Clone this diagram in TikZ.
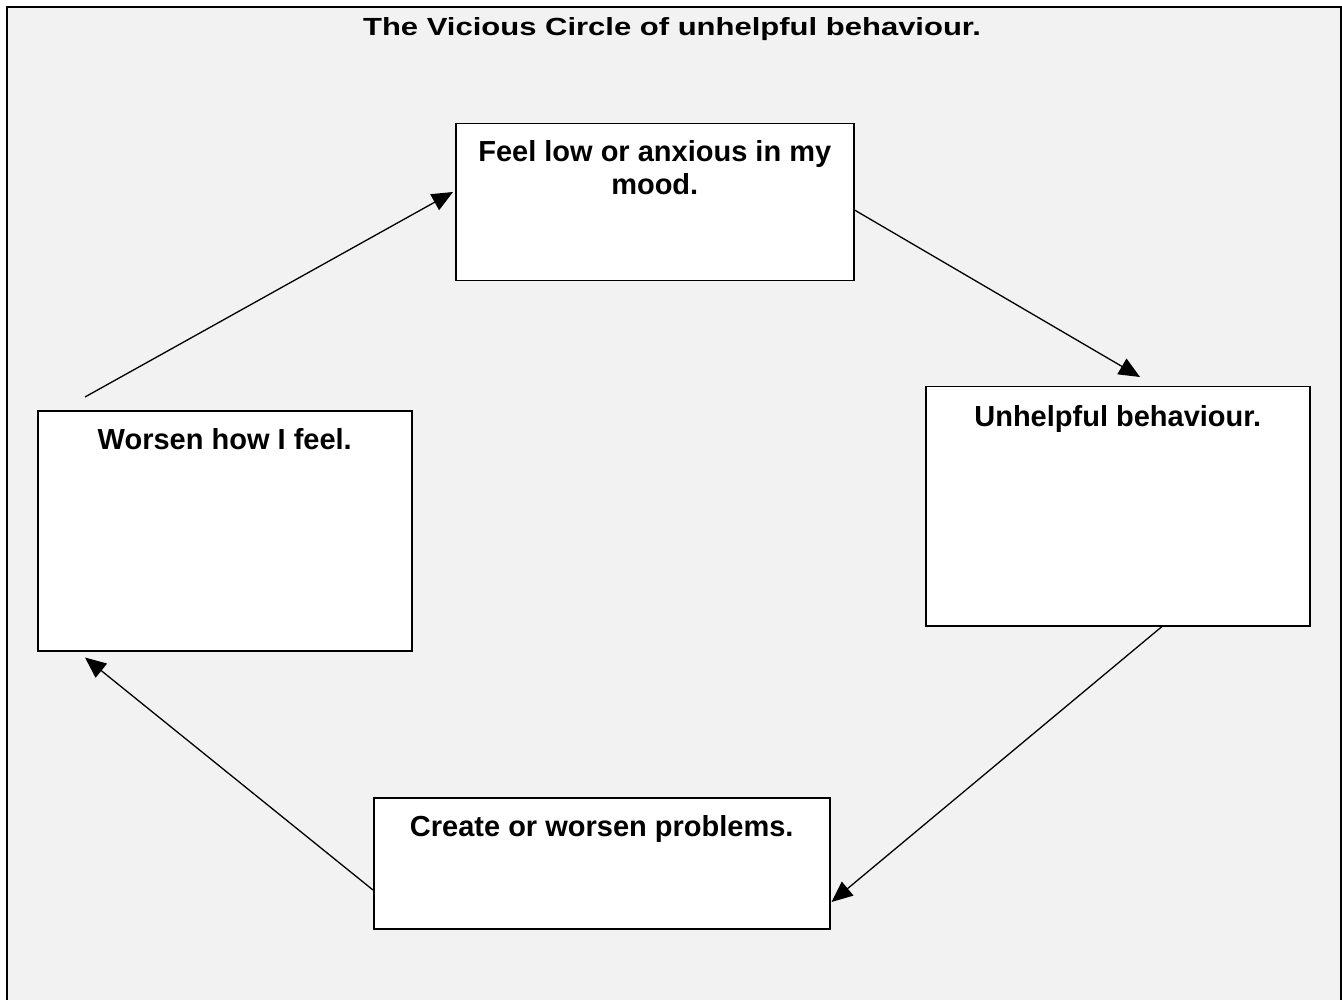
\documentclass[tikz,border=0pt]{standalone}
\usepackage{fontspec}
\setmainfont{Liberation Sans}
\usetikzlibrary{arrows.meta,calc}
\definecolor{panelgray}{HTML}{F2F2F2}
\begin{document}
\begin{tikzpicture}[x=1pt,y=-1pt,
  stagebox/.style={draw=black,line width=1.5pt,fill=white,inner sep=0pt,anchor=north west},
  stagetext/.style={font=\bfseries\fontsize{29}{33}\selectfont,align=center,inner sep=0pt,anchor=north},
  flow/.style={draw=black,line width=1.3pt,-{Triangle[length=21pt,width=18pt]}}]
  \useasboundingbox (0,0) rectangle (1342,1000);
  % panel with its open-bottomed frame
  \fill[panelgray] (7,7) rectangle (1342,1000);
  \draw[line width=2.4pt] (7,1000) -- (7,7) -- (1341,7) -- (1341,1000);
  \node[font=\bfseries\fontsize{31}{35}\selectfont,anchor=base,inner sep=0pt] (title) at (672,36)
    {\scalebox{1}[0.8]{The Vicious Circle of unhelpful behaviour.}};
  % the four stages
  \node[stagebox,minimum width=398pt,minimum height=157pt] (mood) at (455,123) {};
  \node[stagebox,minimum width=384pt,minimum height=239pt] (behav) at (925,386) {};
  \node[stagebox,minimum width=456pt,minimum height=131pt] (probs) at (373,797) {};
  \node[stagebox,minimum width=374pt,minimum height=240pt] (worse) at (37,410) {};
  \node[stagetext] (moodtxt) at ($(mood.north)+(0,17)$) {Feel low or anxious in my\\mood.};
  \node[stagetext] (behavtxt) at ($(behav.north)+(0,19)$) {Unhelpful behaviour.};
  \node[stagetext] (probstxt) at ($(probs.north)+(0,18)$) {Create or worsen problems.};
  \node[stagetext] (worsetxt) at ($(worse.north)+(0,18)$) {Worsen how I feel.};
  % connectors round the circle
  \coordinate (worseout) at ($(worse.north west)+(48,-13)$);
  \coordinate (moodin) at ($(mood.north west)+(-2,69)$);
  \coordinate (moodout) at ($(mood.north east)+(0,87)$);
  \coordinate (behavin) at ($(behav.north west)+(215,-9)$);
  \coordinate (behavout) at ($(behav.south west)+(237,0)$);
  \coordinate (probsin) at ($(probs.north east)+(1,105)$);
  \coordinate (probsout) at ($(probs.north west)+(0,93)$);
  \coordinate (worsein) at ($(worse.south west)+(48,6)$);
  \draw[flow] (worseout) -- (moodin);
  \draw[flow] (moodout) -- (behavin);
  \draw[flow] (behavout) -- (probsin);
  \draw[flow] (probsout) -- (worsein);
\end{tikzpicture}
\end{document}
